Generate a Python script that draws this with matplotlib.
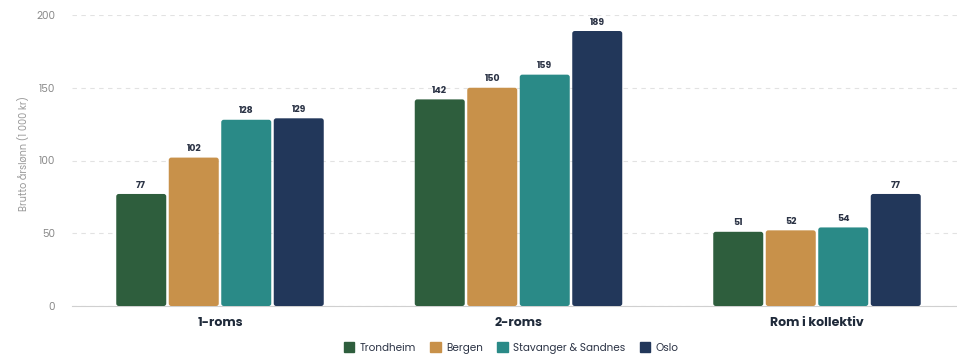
import matplotlib
matplotlib.use("Agg")
import matplotlib.pyplot as plt
from matplotlib.patches import FancyBboxPatch
import numpy as np

categories = ["1-roms", "2-roms", "Rom i kollektiv"]
series_names = ["Trondheim", "Bergen", "Stavanger & Sandnes", "Oslo"]
trondheim = [77, 142, 51]
bergen = [102, 150, 52]
stavanger = [128, 159, 54]
oslo = [129, 189, 77]
yticks = [0, 50, 100, 150, 200]
ylabel = "Brutto årslønn (1 000 kr)"

colors = ["#2E5E3D", "#C8914A", "#2A8A87", "#22375A"]
plt.rcParams['font.family'] = ['Poppins', 'Inter', 'DejaVu Sans']

W, H = 957, 355
fig = plt.figure(figsize=(W/100, H/100), dpi=100)
ax = fig.add_axes([72/W, 1-306/H, (957-72)/W, (306-15)/H])

values = [trondheim, bergen, stavanger, oslo]
x = np.arange(len(categories))
px_x = 298.5          # pixels per x unit
px_y = 291/200        # pixels per y unit
pitch = 52.5/px_x
bw = 50/px_x
r = 2.5/px_x
for i, (name, vals, c) in enumerate(zip(series_names, values, colors)):
    pos = x + (i - 1.5) * pitch
    bars = ax.bar(pos, vals, width=bw, color=c, label=name, zorder=3)
    for b, v in zip(bars, vals):
        b.set_visible(False)
        p = FancyBboxPatch((b.get_x(), 0), b.get_width(), b.get_height(),
                           boxstyle=f"round,pad=0,rounding_size={r}",
                           mutation_aspect=px_x/px_y, facecolor=c,
                           edgecolor='none', zorder=3)
        ax.add_patch(p)
        ax.text(b.get_x() + b.get_width()/2, v + 3, str(v), ha='center', va='bottom',
                fontsize=6.7, fontweight='bold', color='#2B3345')

ax.set_xlim((72-220)/px_x, (957-220)/px_x)
ax.set_ylim(0, 200)
ax.set_yticks(yticks)
ax.set_yticklabels([str(t) for t in yticks], fontsize=7.5, color='#8A8A8A')
ax.tick_params(axis='y', length=0, pad=12)
ax.set_xticks(x)
ax.set_xticklabels(categories, fontsize=9, fontweight='bold', color='#1F2A3A')
ax.tick_params(axis='x', length=0, pad=8)
ax.grid(axis='y', color='#E2E2E2', linestyle=(0, (4, 4)), linewidth=0.8, zorder=0)
for s in ['top', 'right', 'left']:
    ax.spines[s].set_visible(False)
ax.spines['bottom'].set_color('#D0D0D0')
ax.spines['bottom'].set_linewidth(0.8)
ax.set_ylabel(ylabel, fontsize=7, color='#9A9A9A')
ax.yaxis.set_label_coords(-(72-30)/(957-72), 0.525)

handles = [plt.Rectangle((0, 0), 1, 1, color=c) for c in colors]
leg = fig.legend(handles, series_names, loc='center', bbox_to_anchor=(511/W, 1-348/H),
                 ncol=4, frameon=False, fontsize=7.5, handlelength=1.0, handleheight=1.0,
                 handletextpad=0.5, columnspacing=1.4)
for t in leg.get_texts():
    t.set_color('#2B3345')

fig.savefig("out.png", dpi=100)
